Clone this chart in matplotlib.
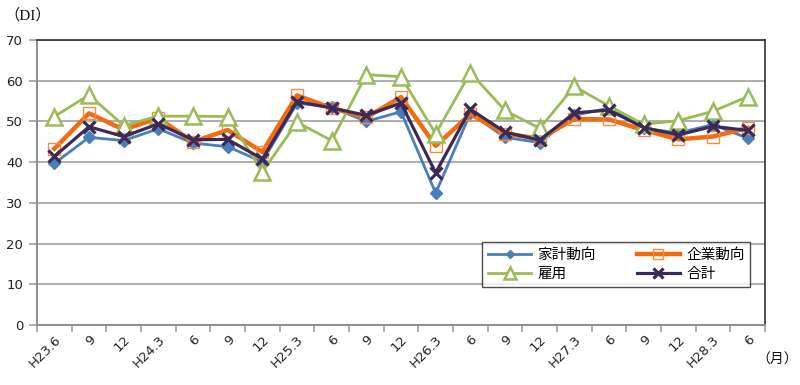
import matplotlib
matplotlib.use("Agg")
import matplotlib.pyplot as plt
import numpy as np

plt.rcParams['font.family'] = ['DejaVu Sans', 'Noto Sans CJK JP']

categories = ["H23.6", "9", "12", "H24.3", "6", "9", "12", "H25.3", "6", "9", "12",
              "H26.3", "6", "9", "12", "H27.3", "6", "9", "12", "H28.3", "6"]

household = [39.7, 46.1, 45.3, 48.2, 44.7, 43.8, 40.1, 54.5, 53.5, 50.0, 52.4,
             32.4, 52.0, 46.1, 44.8, 51.5, 53.3, 48.3, 47.2, 49.2, 45.9]
corporate = [43.3, 52.0, 48.0, 50.8, 45.0, 47.9, 42.5, 56.4, 53.3, 51.0, 56.0,
             44.0, 51.8, 47.0, 45.8, 50.6, 50.5, 47.9, 45.6, 46.3, 48.4]
employment = [51.2, 56.5, 49.0, 51.3, 51.3, 51.2, 37.6, 49.8, 45.3, 61.5, 61.0,
              47.0, 62.0, 52.7, 48.3, 58.6, 53.8, 49.3, 50.2, 52.5, 56.1]
total = [41.4, 48.7, 46.3, 49.4, 45.5, 45.6, 40.8, 54.9, 53.3, 51.5, 54.5,
         37.4, 53.0, 47.4, 45.4, 52.1, 52.8, 48.5, 46.7, 48.8, 47.8]

series_names = ["家計動向", "企業動向", "雇用", "合計"]

fig = plt.figure(figsize=(8, 3.85), dpi=100)
ax = fig.add_axes([0.04625, 0.1558, 0.91, 0.7402])

x = np.arange(len(categories))

h1, = ax.plot(x, household, color='#4A7EBB', lw=2.0, marker='D', ms=6,
              mfc='#4A7EBB', mec='#4A7EBB', label=series_names[0], zorder=3)
h2, = ax.plot(x, corporate, color='#F26B10', lw=3.2, marker='s', ms=9,
              mfc='none', mec='#F58A45', mew=1.0, label=series_names[1], zorder=3)
h3, = ax.plot(x, employment, color='#9BBB59', lw=2.0, marker='^', ms=11,
              mfc='white', mec='#9BBB59', mew=1.8, label=series_names[2], zorder=3)
h4, = ax.plot(x, total, color='#3B2A55', lw=2.3, marker='x', ms=9,
              mec='#3B2A55', mew=2.3, label=series_names[3], zorder=4)

ax.set_xlim(-0.5, len(categories) - 0.5)
ax.set_ylim(0, 70)
ax.set_yticks(np.arange(0, 71, 10))
ax.set_yticklabels([str(v) for v in range(0, 71, 10)], fontsize=9.5, color='#222222')
ax.yaxis.grid(True, color='#A8A8A8', lw=1.3)
ax.set_axisbelow(True)

ax.set_xticks(x)
ax.set_xticklabels(categories, rotation=45, ha='right', rotation_mode='anchor',
                   fontsize=9.5, color='#222222')
ax.tick_params(axis='x', which='major', length=0, pad=6)
ax.set_xticks(np.arange(-0.5, len(categories), 1.0), minor=True)
ax.tick_params(axis='x', which='minor', length=5, color='#A0A0A0', width=1.2)
ax.tick_params(axis='y', length=6, color='#A0A0A0', width=1.2, pad=4)

for side in ['left', 'bottom']:
    ax.spines[side].set_color('#909090')
    ax.spines[side].set_linewidth(1.5)
for side in ['top', 'right']:
    ax.spines[side].set_color('#303030')
    ax.spines[side].set_linewidth(1.2)

# column-wise fill: [row1col1, row2col1, row1col2, row2col2]
leg = ax.legend([h1, h3, h2, h4],
                [series_names[0], series_names[2], series_names[1], series_names[3]],
                ncol=2, loc='upper left', bbox_to_anchor=(0.611, 0.291),
                frameon=True, fancybox=False, edgecolor='#222222',
                prop={'family': ['Noto Sans CJK JP', 'DejaVu Sans'], 'size': 10.5},
                handlelength=3.0, handletextpad=0.4, borderaxespad=0,
                columnspacing=2.8, labelspacing=0.35, borderpad=0.4,
                markerscale=0.75)
leg.get_frame().set_linewidth(1.0)

fig.text(0.006, 0.96, "（DI）", fontsize=11, family=['Liberation Serif', 'Noto Sans CJK JP'],
         va='center', ha='left', color='#111111')
fig.text(0.998, 0.065, "（月）", fontsize=10, family=['Noto Sans CJK JP'],
         va='center', ha='right', color='#111111')

fig.savefig("out.png", dpi=100, facecolor='white')
